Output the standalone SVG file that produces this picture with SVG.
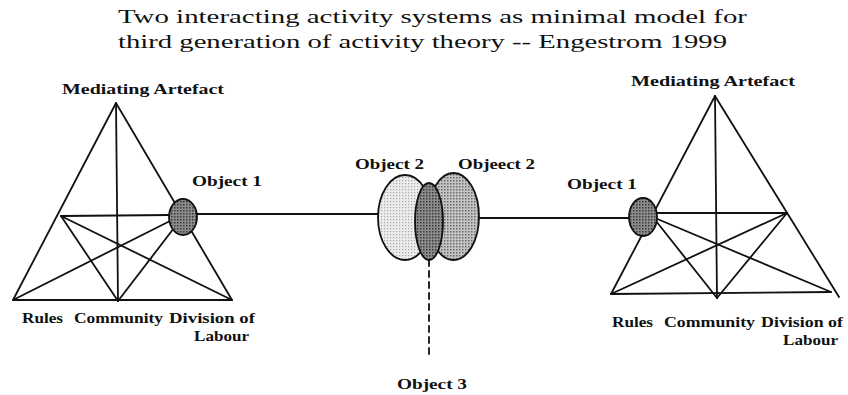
<svg xmlns="http://www.w3.org/2000/svg" width="848" height="395" viewBox="0 0 848 395">
  <style>
    .ln { stroke: #111; stroke-width: 1.8; fill: none; stroke-linecap: round; }
    .title { font-family: "Liberation Serif", "Times New Roman", serif; font-size: 19px; fill: #111; }
    .lbl { font-family: "Liberation Serif", "Times New Roman", serif; font-size: 15px; font-weight: bold; fill: #111; }
    .ell { stroke: #111; stroke-width: 1.8; }
  </style>
  <defs>
    <pattern id="pDark" width="3" height="3" patternUnits="userSpaceOnUse">
      <rect width="3" height="3" fill="#8c8c8c"/>
      <rect width="1.5" height="1.5" fill="#3a3a3a"/>
    </pattern>
    <pattern id="pLight" width="3" height="3" patternUnits="userSpaceOnUse">
      <rect width="3" height="3" fill="#ececec"/>
      <rect width="1.2" height="1.2" fill="#a8a8a8"/>
    </pattern>
    <pattern id="pMid" width="3" height="3" patternUnits="userSpaceOnUse">
      <rect width="3" height="3" fill="#c4c4c4"/>
      <rect width="1.5" height="1.5" fill="#6a6a6a"/>
    </pattern>
  </defs>
  <rect width="848" height="395" fill="#fff"/>

  <g id="title">
    <text class="title" x="118" y="23" textLength="629" lengthAdjust="spacingAndGlyphs">Two interacting activity systems as minimal model for</text>
    <text class="title" x="118" y="48" textLength="609" lengthAdjust="spacingAndGlyphs">third generation of activity theory -- Engestrom 1999</text>
  </g>

  <g id="connectors">
    <line class="ln" x1="197" y1="214" x2="378" y2="214"/>
    <line class="ln" x1="479" y1="218" x2="629" y2="218"/>
    <line class="ln" x1="429" y1="260" x2="429" y2="359" stroke-dasharray="6,5" stroke-linecap="butt"/>
  </g>

  <g id="left-system">
    <polygon class="ln" points="116,103 13,300 232,300" stroke-linejoin="round"/>
    <line class="ln" x1="116" y1="103" x2="118" y2="301"/>
    <line class="ln" x1="61" y1="216" x2="170" y2="215"/>
    <line class="ln" x1="61" y1="216" x2="118" y2="301"/>
    <line class="ln" x1="61" y1="216" x2="232" y2="300"/>
    <line class="ln" x1="170" y1="221" x2="13" y2="300"/>
    <line class="ln" x1="174" y1="228" x2="118" y2="301"/>
    <ellipse id="left-object1" class="ell" cx="183" cy="217" rx="14" ry="18" fill="url(#pDark)"/>
    <text class="lbl" x="62" y="94" textLength="162" lengthAdjust="spacingAndGlyphs">Mediating Artefact</text>
    <text class="lbl" x="192" y="186" textLength="70" lengthAdjust="spacingAndGlyphs">Object 1</text>
    <text class="lbl" y="323"><tspan x="22" textLength="41" lengthAdjust="spacingAndGlyphs">Rules</tspan> <tspan x="74" textLength="89" lengthAdjust="spacingAndGlyphs">Community</tspan> <tspan x="169" textLength="86" lengthAdjust="spacingAndGlyphs">Division of</tspan></text>
    <text class="lbl" x="194" y="341" textLength="55" lengthAdjust="spacingAndGlyphs">Labour</text>
  </g>

  <g id="shared-object">
    <ellipse id="object2-left" class="ell" cx="405" cy="217.5" rx="27" ry="42.5" fill="url(#pLight)"/>
    <ellipse id="object2-right" class="ell" cx="453.5" cy="216.5" rx="25.5" ry="43.5" fill="url(#pMid)"/>
    <ellipse id="object3-core" class="ell" cx="429" cy="221.5" rx="14" ry="38.5" fill="url(#pDark)"/>
    <text class="lbl" x="355" y="169" textLength="69" lengthAdjust="spacingAndGlyphs">Object 2</text>
    <text class="lbl" x="458" y="169" textLength="77" lengthAdjust="spacingAndGlyphs">Objeect 2</text>
    <text class="lbl" x="397" y="389" textLength="70" lengthAdjust="spacingAndGlyphs">Object 3</text>
  </g>

  <g id="right-system">
    <line class="ln" x1="715" y1="96" x2="611" y2="294"/>
    <line class="ln" x1="715" y1="96" x2="839" y2="297"/>
    <line class="ln" x1="611" y1="294" x2="831" y2="292"/>
    <line class="ln" x1="715" y1="96" x2="717" y2="298"/>
    <line class="ln" x1="656" y1="213" x2="787" y2="213"/>
    <line class="ln" x1="787" y1="213" x2="717" y2="298"/>
    <line class="ln" x1="787" y1="213" x2="611" y2="294"/>
    <line class="ln" x1="656" y1="221" x2="717" y2="298"/>
    <line class="ln" x1="655" y1="218" x2="831" y2="292"/>
    <ellipse id="right-object1" class="ell" cx="643" cy="217" rx="14" ry="19" fill="url(#pDark)"/>
    <text class="lbl" x="631" y="86" textLength="164" lengthAdjust="spacingAndGlyphs">Mediating Artefact</text>
    <text class="lbl" x="567" y="189" textLength="70" lengthAdjust="spacingAndGlyphs">Object 1</text>
    <text class="lbl" y="327"><tspan x="612" textLength="41" lengthAdjust="spacingAndGlyphs">Rules</tspan> <tspan x="664" textLength="91" lengthAdjust="spacingAndGlyphs">Community</tspan> <tspan x="761" textLength="82" lengthAdjust="spacingAndGlyphs">Division of</tspan></text>
    <text class="lbl" x="783" y="345" textLength="55" lengthAdjust="spacingAndGlyphs">Labour</text>
  </g>
</svg>
